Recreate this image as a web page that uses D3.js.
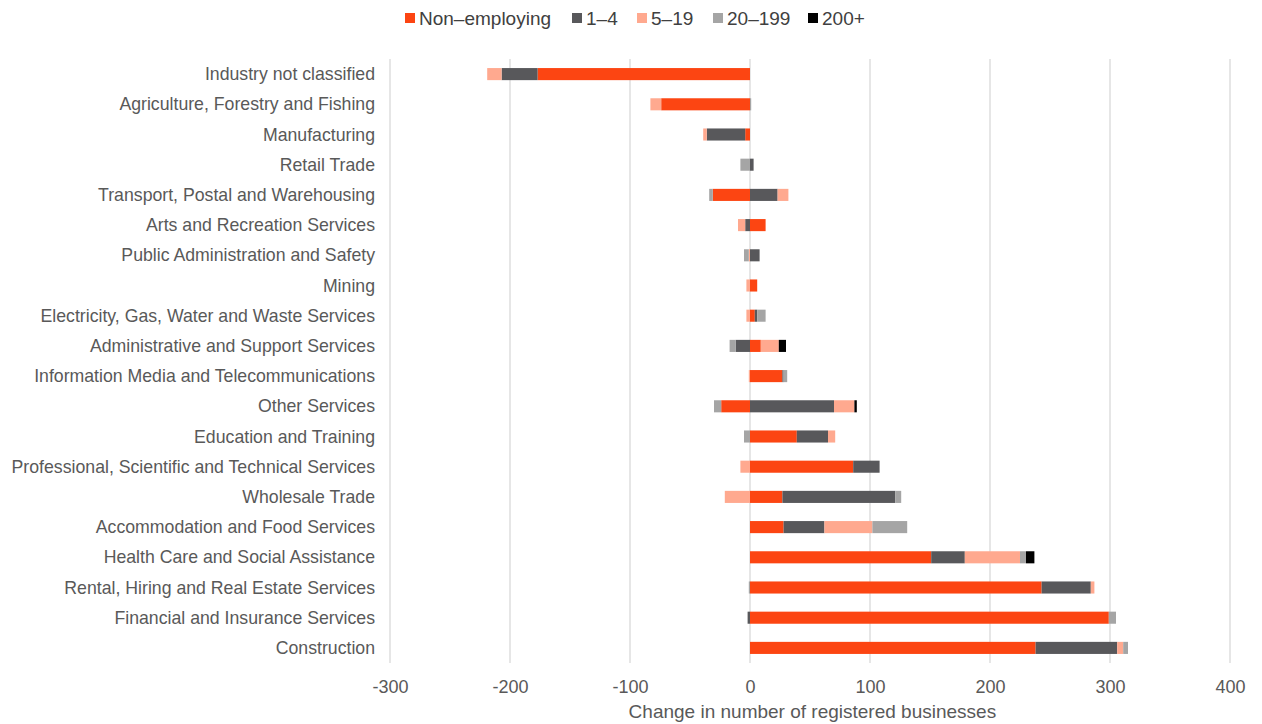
<!DOCTYPE html>
<html>
<head>
<meta charset="utf-8">
<script src="https://cdn.jsdelivr.net/npm/d3@7"></script>
<style>
  html, body { margin: 0; padding: 0; background: #fff; }
  svg { display: block; }
</style>
</head>
<body>
<svg id="chart" width="1262" height="724"></svg>
<script>
const categories = [
  "Industry not classified",
  "Agriculture, Forestry and Fishing",
  "Manufacturing",
  "Retail Trade",
  "Transport, Postal and Warehousing",
  "Arts and Recreation Services",
  "Public Administration and Safety",
  "Mining",
  "Electricity, Gas, Water and Waste Services",
  "Administrative and Support Services",
  "Information Media and Telecommunications",
  "Other Services",
  "Education and Training",
  "Professional, Scientific and Technical Services",
  "Wholesale Trade",
  "Accommodation and Food Services",
  "Health Care and Social Assistance",
  "Rental, Hiring and Real Estate Services",
  "Financial and Insurance Services",
  "Construction"
];
const seriesNames = ["Non\u2013employing", "1\u20134", "5\u201319", "20\u2013199", "200+"];
const nonEmploying = [-177, -74, -4, 0, -31, 13, 0, 6, 4, 9, 27, -24, 39, 86, 27, 28, 151, 243, 299, 238];
const emp1to4      = [-30, 0, -32, 3, 23, -4, 8, 0, 2, -12, 1, 70, 26, 22, 94, 34, 28, 41, -2, 68];
const emp5to19     = [-12, -9, -3, 0, 9, -6, -1, -3, -3, 15, -1, 17, 6, -8, -21, 40, 46, 3, 0, 5];
const emp20to199   = [0, 1, 0, -8, -3, 0, -4, 0, 7, -5, 3, -6, -5, 0, 5, 29, 5, -1, 6, 4];
const emp200plus   = [0, 0, 0, 0, 0, 0, 0, 0, 0, 6, 0, 2, 0, 0, 0, 0, 7, 0, 0, 0];
const xTicks = [-300, -200, -100, 0, 100, 200, 300, 400];
const colors = ["#FC4512", "#58585B", "#FFA98F", "#A5A5A5", "#000000"];
const axisTitle = "Change in number of registered businesses";

const seriesArrays = [nonEmploying, emp1to4, emp5to19, emp20to199, emp200plus];
const keys = seriesNames;
const table = categories.map((c, i) => {
  const row = { category: c };
  keys.forEach((k, j) => row[k] = seriesArrays[j][i]);
  return row;
});

const svg = d3.select("#chart");
const font = "'Liberation Sans', Arial, sans-serif";
const textColor = "#595959";

const x = d3.scaleLinear().domain([-300, 400]).range([390, 1230]);
const y = d3.scaleBand().domain(categories).range([59, 663]).paddingInner(0.6).paddingOuter(0.3);

// gridlines
svg.append("g").selectAll("line").data(xTicks).join("line")
  .attr("x1", d => x(d)).attr("x2", d => x(d))
  .attr("y1", 59).attr("y2", 663)
  .attr("stroke", "#d9d9d9").attr("stroke-width", 1.3);

const stack = d3.stack().keys(keys).offset(d3.stackOffsetDiverging);
const stacked = stack(table);

svg.append("g").selectAll("g").data(stacked).join("g")
  .attr("fill", (d, i) => colors[i])
  .selectAll("rect").data(d => d).join("rect")
  .attr("x", d => x(Math.min(d[0], d[1])))
  .attr("width", d => Math.abs(x(d[1]) - x(d[0])))
  .attr("y", d => y(d.data.category))
  .attr("height", y.bandwidth());

// category labels
svg.append("g").selectAll("text").data(categories).join("text")
  .attr("x", 375)
  .attr("y", d => y(d) + y.bandwidth() / 2)
  .attr("dy", "0.35em")
  .attr("text-anchor", "end")
  .attr("font-family", font).attr("font-size", 17.7).attr("fill", textColor)
  .text(d => d);

// x axis tick labels
const xAxis = d3.axisBottom(x).tickValues(xTicks).tickSize(0).tickPadding(0).tickFormat(d => String(d));
const gx = svg.append("g").attr("transform", "translate(0,680)").call(xAxis);
gx.select(".domain").remove();
gx.selectAll("text").attr("font-family", font).attr("font-size", 18).attr("fill", textColor);

svg.append("text")
  .attr("x", x(52)).attr("y", 718)
  .attr("text-anchor", "middle")
  .attr("font-family", font).attr("font-size", 19).attr("fill", textColor)
  .text(axisTitle);

// legend
const legendX = [405, 572, 637, 713, 808];
const lg = svg.append("g").selectAll("g").data(seriesNames).join("g")
  .attr("transform", (d, i) => `translate(${legendX[i]},18)`);
lg.append("rect").attr("x", 0).attr("y", -5).attr("width", 10).attr("height", 10)
  .attr("fill", (d, i) => colors[i]);
lg.append("text").attr("x", 14).attr("dy", "0.36em")
  .attr("font-family", font).attr("font-size", 19).attr("fill", "#404040")
  .text(d => d);
</script>
</body>
</html>
